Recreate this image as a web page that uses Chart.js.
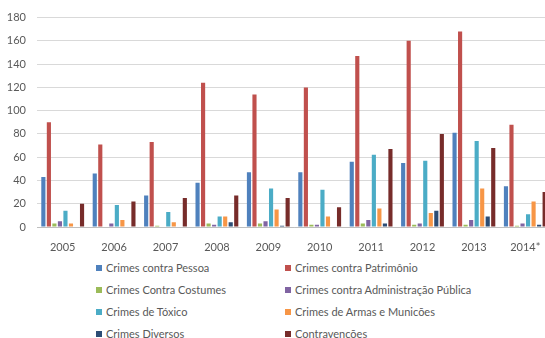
<!DOCTYPE html>
<html>
<head>
<meta charset="utf-8">
<script src="https://cdn.jsdelivr.net/npm/chart.js@4"></script>
<style>
  html, body { margin: 0; padding: 0; background: #fff; overflow: hidden; }
  #wrap { position: absolute; left: 0; top: 0; width: 551px; height: 252px; }
  #legend { position: absolute; left: 0; top: 261px; width: 545px; font-family: Lato, "Open Sans", sans-serif; font-size: 11px; color: #595959; }
  .item { position: absolute; white-space: nowrap; line-height: 14px; }
  .box { display: inline-block; width: 6px; height: 6px; margin-right: 4px; vertical-align: 1px; }
</style>
</head>
<body>
<div id="wrap"><canvas id="crimesGraph"></canvas></div>
<div id="legend"></div>
<script>
// DATA
var years = ['2005', '2006', '2007', '2008', '2009', '2010', '2011', '2012', '2013', '2014*'];

var seriesNames = ['Crimes contra Pessoa', 'Crimes contra Patrimônio', 'Crimes Contra Costumes',
    'Crimes contra Administração Pública', 'Crimes de Tóxico', 'Crimes de Armas e Municões',
    'Crimes Diversos', 'Contravenções'];

var pessoa      = [43, 46, 27, 38, 47, 47, 56, 55, 81, 35];
var patrimonio  = [90, 71, 73, 124, 114, 120, 147, 160, 168, 88];
var costumes    = [3, 0, 1, 3, 3, 2, 3, 2, 2, 1];
var admPublica  = [5, 3, 0, 2, 5, 2, 6, 3, 6, 3];
var toxico      = [14, 19, 13, 9, 33, 32, 62, 57, 74, 11];
var armas       = [3, 6, 4, 9, 15, 9, 16, 12, 33, 22];
var diversos    = [0, 0, 0, 4, 1, 0, 3, 14, 9, 2];
var contravencoes = [20, 22, 25, 27, 25, 17, 67, 80, 68, 30];

var yTicks = [0, 20, 40, 60, 80, 100, 120, 140, 160, 180];

var colors = ['#4F81BD', '#C0504D', '#9BBB59', '#8064A2', '#4BACC6', '#F79646', '#2C4D75', '#772C2A'];

var allSeries = [pessoa, patrimonio, costumes, admPublica, toxico, armas, diversos, contravencoes];

var datasets = [];
for (var i = 0; i < allSeries.length; i++) {
    datasets.push({
        label: seriesNames[i],
        data: allSeries[i],
        backgroundColor: colors[i],
        borderWidth: 0,
        categoryPercentage: 0.86,
        barPercentage: 0.75
    });
}

const ctx = document.getElementById('crimesGraph').getContext('2d');
const crimesGraph = new Chart(ctx, {
    type: 'bar',
    data: { labels: years, datasets: datasets },
    options: {
        responsive: true,
        maintainAspectRatio: false,
        animation: false,
        layout: { padding: { top: 12, right: 0, left: 0, bottom: 0 } },
        plugins: {
            legend: { display: false },
            tooltip: { enabled: false }
        },
        scales: {
            x: {
                grid: { display: false },
                border: { color: '#BFBFBF' },
                ticks: { color: '#595959', font: { family: 'Lato', size: 11 }, padding: 6 },
                afterFit: function (s) { s.height = 25; }
            },
            y: {
                min: 0,
                max: 180,
                afterBuildTicks: function (s) { s.ticks = yTicks.map(function (v) { return { value: v }; }); },
                grid: { color: '#D9D9D9', drawTicks: false },
                border: { display: false },
                ticks: { color: '#595959', font: { family: 'Lato', size: 11 }, padding: 11 },
                afterFit: function (s) { s.width = 37; }
            }
        }
    }
});

// legend in two columns, like the original
var legend = document.getElementById('legend');
for (var i = 0; i < seriesNames.length; i++) {
    var item = document.createElement('div');
    item.className = 'item';
    item.style.left = (i % 2 == 0 ? 96 : 285) + 'px';
    item.style.top = (Math.floor(i / 2) * 22) + 'px';
    item.innerHTML = '<span class="box" style="background:' + colors[i] + '"></span>' + seriesNames[i];
    legend.appendChild(item);
}
</script>
</body>
</html>
